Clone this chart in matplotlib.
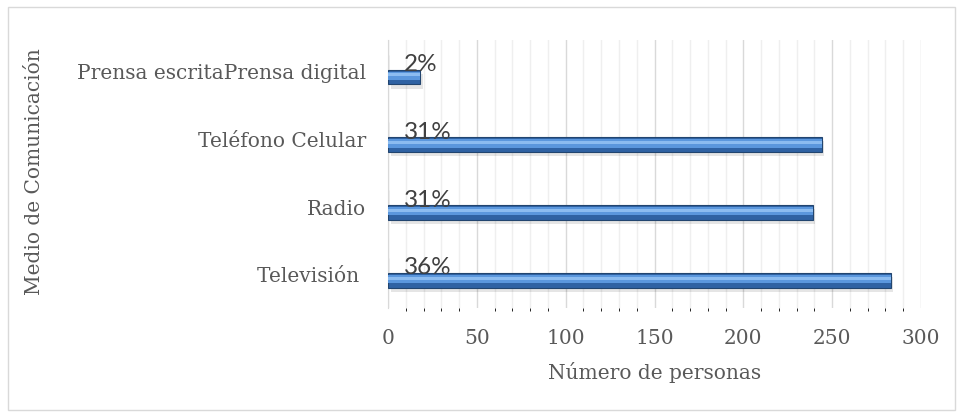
import matplotlib.pyplot as plt
import matplotlib.transforms as mtransforms
from matplotlib.patches import Rectangle
from matplotlib.ticker import MultipleLocator

# data (bottom to top)
categories = ["Televisión ", "Radio", "Teléfono Celular", "Prensa escritaPrensa digital"]
personas = [283, 239, 244, 18]
porcentajes = ["36%", "31%", "31%", "2%"]

text_col = "#595959"
serif = ["DejaVu Serif"]
fs = 14.5

fig = plt.figure(figsize=(9.64, 4.17), dpi=100)
ax = fig.add_axes([388 / 964, 1 - 308 / 417, (921 - 388) / 964, (308 - 40) / 417])

# outer chart frame
fig.patches.append(Rectangle((8 / 964, 7 / 417), 947 / 964, 403 / 417, transform=fig.transFigure,
                             fill=False, edgecolor="#d9d9d9", linewidth=1))

pos = list(range(len(categories)))
h = 0.22

# soft shadow, base bar, lighter highlight stripe
ax.barh([p - 0.06 for p in pos], personas, height=h, left=1.5, color="#000000", alpha=0.10,
        linewidth=0, zorder=2)
ax.barh(pos, personas, height=h, color="#2f62a3", edgecolor="#22456f", linewidth=0.8, zorder=3)
ax.barh([p + 0.02 for p in pos], personas, height=h * 0.55, color="#5b97dd", linewidth=0, zorder=4)
ax.barh([p + 0.035 for p in pos], personas, height=h * 0.22, color="#8cbcf0", linewidth=0, zorder=5)

# small depth marks at the base of each bar
ax.vlines([0] * len(pos), [p + h / 2 for p in pos], [p + 0.33 for p in pos], color="#bfbfbf",
          linewidth=1, zorder=1)

for p, lab in zip(pos, porcentajes):
    ax.annotate(lab, (9, p), xytext=(0, 1.5), textcoords="offset points", va="bottom", ha="left",
                fontsize=17.5, color="#404040", family=["Lato", "DejaVu Sans"], zorder=6)

ax.set_xlim(0, 300)
ax.set_ylim(-0.405, 3.545)
ax.xaxis.set_major_locator(MultipleLocator(50))
ax.xaxis.set_minor_locator(MultipleLocator(10))
ax.grid(True, which="major", axis="x", color="#d9d9d9", linewidth=1, zorder=0)
ax.grid(True, which="minor", axis="x", color="#efefef", linewidth=1, zorder=0)
ax.set_axisbelow(True)

ax.set_yticks(pos)
ax.set_yticklabels(categories)
ax.tick_params(axis="y", length=0, pad=16, labelsize=fs, labelcolor=text_col)
ax.tick_params(axis="x", length=0, pad=15, labelsize=fs, labelcolor=text_col)
shift = mtransforms.ScaledTranslation(0, 4 / 72, fig.dpi_scale_trans)
for t in ax.get_yticklabels():
    t.set_transform(t.get_transform() + shift)
    t.set_family(serif)
for t in ax.get_xticklabels():
    t.set_family(serif)

for s in ["top", "right", "bottom"]:
    ax.spines[s].set_visible(False)
ax.spines["left"].set_color("#d9d9d9")

ax.set_xlabel("Número de personas", fontsize=fs, color=text_col, family=serif, labelpad=10)
fig.text(35 / 964, 1 - 172 / 417, "Medio de Comunicación", rotation=90, ha="center", va="center",
         fontsize=fs, color=text_col, family=serif)

fig.savefig("out.png", dpi=100)
